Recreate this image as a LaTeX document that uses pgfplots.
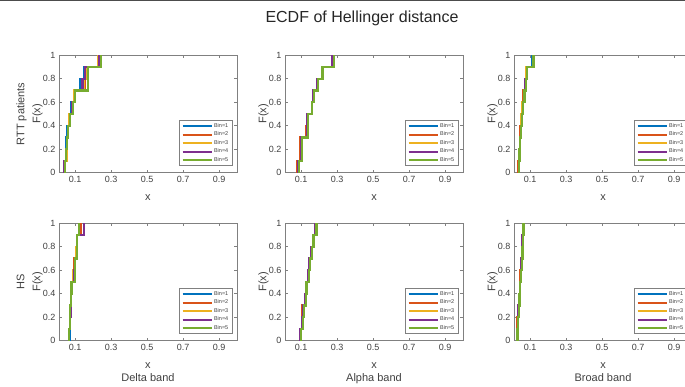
\documentclass[border=0pt]{standalone}
\usepackage{pgfplots}
\usepackage{pgfplotstable}
\pgfplotsset{compat=1.18}
\usepackage{fontspec}
\setmainfont{Liberation Sans}
\definecolor{c1}{rgb}{0,0.447,0.741}
\definecolor{c2}{rgb}{0.85,0.325,0.098}
\definecolor{c3}{rgb}{0.929,0.694,0.125}
\definecolor{c4}{rgb}{0.494,0.184,0.556}
\definecolor{c5}{rgb}{0.466,0.674,0.188}
\definecolor{axgray}{rgb}{0.5,0.5,0.5}
\definecolor{txtgray}{rgb}{0.25,0.25,0.25}

% RTT patients, Delta band
\pgfplotstableread{
F   b1    b2    b3    b4    b5
0   0.040 0.042 0.045 0.040 0.044
0.1 0.040 0.042 0.045 0.040 0.044
0.2 0.048 0.050 0.052 0.050 0.050
0.3 0.052 0.055 0.056 0.055 0.054
0.4 0.058 0.060 0.062 0.060 0.060
0.5 0.065 0.068 0.066 0.070 0.072
0.6 0.080 0.082 0.085 0.085 0.088
0.7 0.095 0.100 0.095 0.098 0.100
0.8 0.130 0.155 0.150 0.140 0.170
0.9 0.150 0.160 0.160 0.155 0.170
1.0 0.225 0.235 0.230 0.235 0.243
}\tA
% RTT patients, Alpha band
\pgfplotstableread{
F   b1    b2    b3    b4    b5
0   0.083 0.080 0.085 0.085 0.086
0.1 0.083 0.080 0.085 0.085 0.086
0.2 0.100 0.095 0.100 0.100 0.105
0.3 0.100 0.095 0.102 0.100 0.105
0.4 0.135 0.130 0.135 0.135 0.137
0.5 0.135 0.135 0.137 0.135 0.137
0.6 0.160 0.160 0.160 0.160 0.162
0.7 0.170 0.168 0.170 0.165 0.171
0.8 0.190 0.190 0.192 0.190 0.193
0.9 0.215 0.215 0.217 0.215 0.218
1.0 0.275 0.278 0.280 0.275 0.281
}\tB
% RTT patients, Broad band
\pgfplotstableread{
F   b1    b2    b3    b4    b5
0   0.036 0.035 0.037 0.038 0.038
0.1 0.036 0.035 0.037 0.038 0.038
0.2 0.040 0.038 0.040 0.041 0.041
0.3 0.043 0.042 0.043 0.044 0.044
0.4 0.047 0.045 0.047 0.048 0.048
0.5 0.052 0.050 0.052 0.054 0.054
0.6 0.058 0.055 0.057 0.059 0.060
0.7 0.064 0.062 0.064 0.066 0.068
0.8 0.070 0.070 0.072 0.074 0.075
0.9 0.078 0.076 0.079 0.082 0.084
1.0 0.112 0.114 0.116 0.120 0.118
}\tC
% HS, Delta band
\pgfplotstableread{
F   b1    b2    b3    b4    b5
0   0.068 0.066 0.064 0.067 0.065
0.1 0.068 0.066 0.064 0.067 0.065
0.2 0.072 0.070 0.070 0.072 0.070
0.3 0.075 0.075 0.073 0.075 0.072
0.4 0.078 0.078 0.076 0.078 0.075
0.5 0.082 0.080 0.080 0.082 0.080
0.6 0.090 0.088 0.090 0.092 0.100
0.7 0.095 0.095 0.100 0.098 0.100
0.8 0.105 0.105 0.108 0.110 0.110
0.9 0.110 0.110 0.112 0.110 0.112
1.0 0.125 0.130 0.120 0.148 0.122
}\tD
% HS, Alpha band
\pgfplotstableread{
F   b1    b2    b3    b4    b5
0   0.098 0.100 0.100 0.095 0.100
0.1 0.098 0.100 0.100 0.095 0.100
0.2 0.105 0.104 0.108 0.105 0.110
0.3 0.110 0.108 0.112 0.110 0.115
0.4 0.120 0.120 0.122 0.120 0.125
0.5 0.128 0.128 0.130 0.128 0.130
0.6 0.140 0.140 0.142 0.140 0.142
0.7 0.148 0.148 0.150 0.147 0.150
0.8 0.158 0.158 0.160 0.157 0.160
0.9 0.165 0.166 0.167 0.165 0.168
1.0 0.178 0.180 0.182 0.176 0.185
}\tE
% HS, Broad band
\pgfplotstableread{
F   b1    b2    b3    b4    b5
0   0.028 0.027 0.029 0.028 0.030
0.1 0.028 0.027 0.029 0.028 0.030
0.2 0.032 0.030 0.033 0.031 0.034
0.3 0.035 0.034 0.036 0.035 0.037
0.4 0.038 0.038 0.040 0.039 0.041
0.5 0.042 0.042 0.044 0.043 0.045
0.6 0.046 0.046 0.048 0.048 0.049
0.7 0.050 0.050 0.052 0.052 0.053
0.8 0.054 0.053 0.056 0.055 0.057
0.9 0.057 0.056 0.060 0.058 0.060
1.0 0.060 0.061 0.064 0.061 0.063
}\tF

\pgfplotsset{
  ecdf/.style={
    scale only axis, width=178pt, height=117.5pt, anchor=south west,
    xmin=0.01, xmax=1, ymin=0, ymax=1,
    xtick={0.1,0.3,0.5,0.7,0.9}, ytick={0,0.2,0.4,0.6,0.8,1},
    /pgf/number format/assume math mode=true,
    tick label style={font=\fontsize{9}{10}\selectfont, text=txtgray},
    label style={font=\fontsize{11}{12}\selectfont, text=txtgray},
    axis line style={axgray, line width=0.5pt},
    tick style={axgray, line width=0.5pt},
    tick align=inside, major tick length=3pt,
    xlabel={x}, ylabel={F(x)},
    xlabel style={yshift=-5pt},
    ylabel style={yshift=-6.5pt},
    every axis plot/.append style={const plot mark left, line width=2.3pt, no marks},
    legend cell align=left,
    legend style={at={(1,0)}, anchor=south east, xshift=-5pt, yshift=7pt,
      draw=black!50, line width=0.4pt, fill=white,
      font=\fontsize{5.5}{6}\selectfont, text=txtgray,
      inner xsep=2pt, inner ysep=1.2pt,
      nodes={inner sep=1.5pt}},
    legend image code/.code={\draw[#1, line width=2pt] (0pt,0pt) -- (29pt,0pt);},
  },
}
\newcommand{\ecdfplots}[1]{%
  \addplot[c1] table[x=b1,y=F]{#1};
  \addplot[c2] table[x=b2,y=F]{#1};
  \addplot[c3] table[x=b3,y=F]{#1};
  \addplot[c4] table[x=b4,y=F]{#1};
  \addplot[c5] table[x=b5,y=F]{#1};
  \legend{Bin=1,Bin=2,Bin=3,Bin=4,Bin=5}
}

\begin{document}
\begin{tikzpicture}
\path[use as bounding box] (0pt,0pt) rectangle (685pt,387pt);
\draw[line width=1.2pt, black!70] (0pt,386.6pt) -- (685pt,386.6pt);
\node[font=\fontsize{16}{18}\selectfont, text=black!85] at (362pt,369pt) {ECDF of Hellinger distance};

\begin{axis}[ecdf, at={(59pt,214.3pt)}, ylabel={RTT patients\\[4pt]F(x)}, ylabel style={align=center}]
\ecdfplots{\tA}
\end{axis}
\begin{axis}[ecdf, at={(285pt,214.3pt)}]
\ecdfplots{\tB}
\end{axis}
\begin{axis}[ecdf, at={(514pt,214.3pt)}]
\ecdfplots{\tC}
\end{axis}

\begin{axis}[ecdf, at={(59pt,46.3pt)}, ylabel={HS\\[4pt]F(x)}, ylabel style={align=center}, xlabel={x\\[1pt]Delta band}, xlabel style={align=center}]
\ecdfplots{\tD}
\end{axis}
\begin{axis}[ecdf, at={(285pt,46.3pt)}, xlabel={x\\[1pt]Alpha band}, xlabel style={align=center}]
\ecdfplots{\tE}
\end{axis}
\begin{axis}[ecdf, at={(514pt,46.3pt)}, xlabel={x\\[1pt]Broad band}, xlabel style={align=center}]
\ecdfplots{\tF}
\end{axis}
\end{tikzpicture}
\end{document}
